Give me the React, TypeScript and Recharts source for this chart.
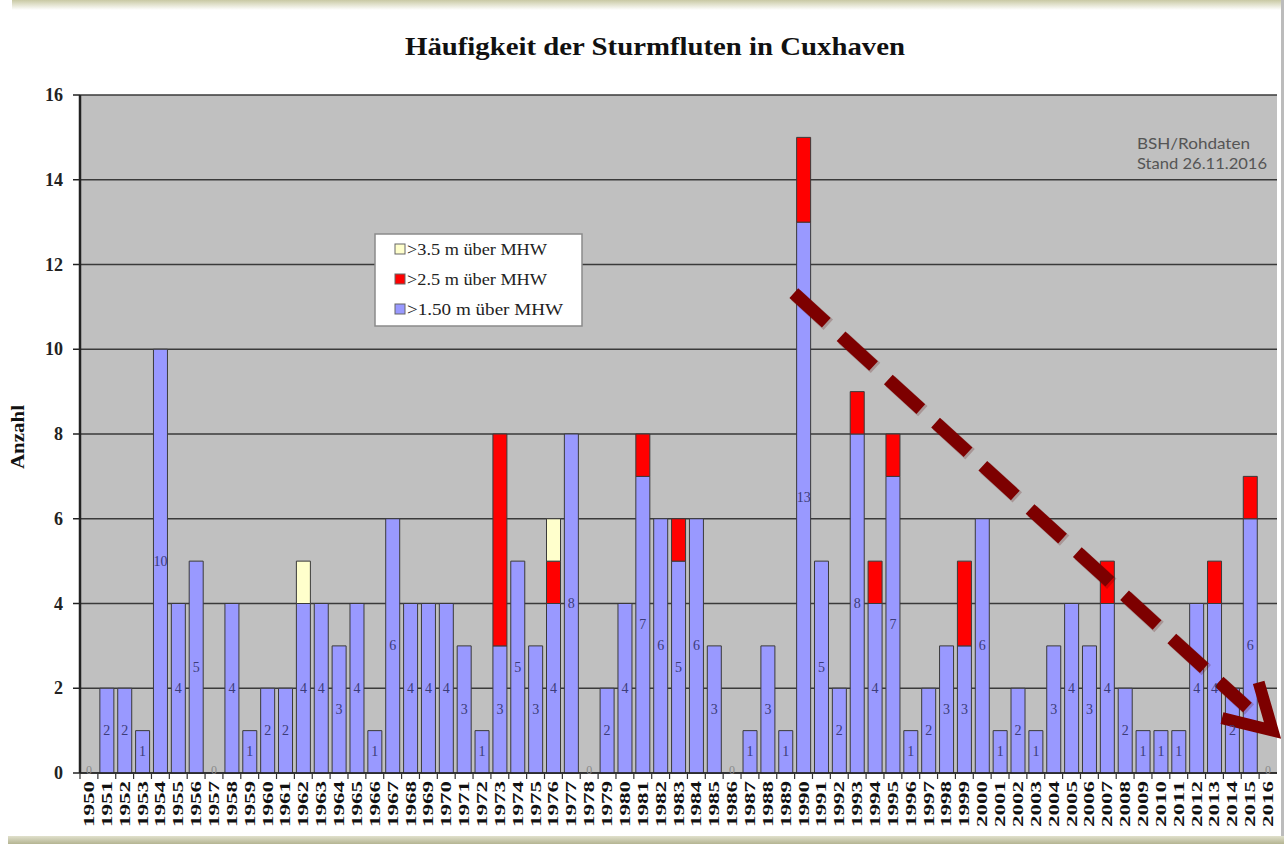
import React from "react";
import {
  BarChart,
  Bar,
  XAxis,
  YAxis,
  CartesianGrid,
  Legend,
  LabelList,
  ReferenceLine,
} from "recharts";

const years = [
  "1950", "1951", "1952", "1953", "1954", "1955", "1956", "1957", "1958", "1959",
  "1960", "1961", "1962", "1963", "1964", "1965", "1966", "1967", "1968", "1969",
  "1970", "1971", "1972", "1973", "1974", "1975", "1976", "1977", "1978", "1979",
  "1980", "1981", "1982", "1983", "1984", "1985", "1986", "1987", "1988", "1989",
  "1990", "1991", "1992", "1993", "1994", "1995", "1996", "1997", "1998", "1999",
  "2000", "2001", "2002", "2003", "2004", "2005", "2006", "2007", "2008", "2009",
  "2010", "2011", "2012", "2013", "2014", "2015", "2016",
];

// >1.50 m über MHW
const over150 = [
  0, 2, 2, 1, 10, 4, 5, 0, 4, 1,
  2, 2, 4, 4, 3, 4, 1, 6, 4, 4,
  4, 3, 1, 3, 5, 3, 4, 8, 0, 2,
  4, 7, 6, 5, 6, 3, 0, 1, 3, 1,
  13, 5, 2, 8, 4, 7, 1, 2, 3, 3,
  6, 1, 2, 1, 3, 4, 3, 4, 2, 1,
  1, 1, 4, 4, 2, 6, 0,
];

// >2.5 m über MHW
const over250 = [
  0, 0, 0, 0, 0, 0, 0, 0, 0, 0,
  0, 0, 0, 0, 0, 0, 0, 0, 0, 0,
  0, 0, 0, 5, 0, 0, 1, 0, 0, 0,
  0, 1, 0, 1, 0, 0, 0, 0, 0, 0,
  2, 0, 0, 1, 1, 1, 0, 0, 0, 2,
  0, 0, 0, 0, 0, 0, 0, 1, 0, 0,
  0, 0, 0, 1, 0, 1, 0,
];

// >3.5 m über MHW
const over350 = [
  0, 0, 0, 0, 0, 0, 0, 0, 0, 0,
  0, 0, 1, 0, 0, 0, 0, 0, 0, 0,
  0, 0, 0, 0, 0, 0, 1, 0, 0, 0,
  0, 0, 0, 0, 0, 0, 0, 0, 0, 0,
  0, 0, 0, 0, 0, 0, 0, 0, 0, 0,
  0, 0, 0, 0, 0, 0, 0, 0, 0, 0,
  0, 0, 0, 0, 0, 0, 0,
];

const yTicks = [0, 2, 4, 6, 8, 10, 12, 14, 16];

const legendItems = [
  { label: ">3.5 m über MHW", color: "#ffffcc", len: 140 },
  { label: ">2.5 m über MHW", color: "#ff0000", len: 140 },
  { label: ">1.50 m über MHW", color: "#9999ff", len: 156 },
];

// trend arrow, in data units
const trendFrom = { x: "1989", y: 11.5 };
const trendTo = { x: "2016", y: 1.1 };

const data = years.map((year, i) => ({
  year,
  blue: over150[i],
  red: over250[i],
  yellow: over350[i],
}));

const SERIF = "'Liberation Serif', 'Times New Roman', serif";
const BAND = 1197 / years.length;

function XTick(props: any) {
  const { x, y, payload, index } = props;
  const empty = over150[index] + over250[index] + over350[index] === 0;
  return (
    <g transform={`translate(${x},${y})`}>
      <line x1={-BAND / 2} x2={-BAND / 2} y1={0} y2={6} stroke="#333" strokeWidth={1.2} />
      {empty && (
        <text
          x={0}
          y={-3}
          textAnchor="middle"
          dominantBaseline="central"
          fontFamily={SERIF}
          fontSize={12}
          fill="#8a8a8a"
        >
          0
        </text>
      )}
      <text
        transform="rotate(-90)"
        x={-8}
        y={0}
        textAnchor="end"
        dominantBaseline="central"
        fontFamily={SERIF}
        fontWeight="bold"
        fontSize={15}
        fill="#111"
        textLength={46}
        lengthAdjust="spacingAndGlyphs"
      >
        {payload.value}
      </text>
    </g>
  );
}

function YTick(props: any) {
  const { x, y, payload } = props;
  return (
    <text
      x={x - 10}
      y={y}
      textAnchor="end"
      dominantBaseline="central"
      fontFamily={SERIF}
      fontWeight="bold"
      fontSize={18}
      fill="#222"
    >
      {payload.value}
    </text>
  );
}

function ValueLabel(props: any) {
  const { x, y, width, height, value } = props;
  if (!value) return null;
  return (
    <text
      x={x + width / 2}
      y={y + height / 2}
      textAnchor="middle"
      dominantBaseline="central"
      fontFamily={SERIF}
      fontSize={14}
      fill="#3c3c78"
    >
      {value}
    </text>
  );
}

function LegendBox() {
  return (
    <svg width={210} height={95}>
      <rect x={1} y={1} width={207} height={92} fill="#fff" stroke="#8a8a8a" strokeWidth={1.5} />
      {legendItems.map((it, i) => (
        <g key={it.label} transform={`translate(0, ${16 + i * 30})`}>
          <rect x={21} y={-5} width={10} height={10} fill={it.color} stroke="#666" strokeWidth={1} />
          <text
            x={33}
            y={0}
            dominantBaseline="central"
            fontFamily={SERIF}
            fontSize={16}
            fill="#222"
            textLength={it.len}
            lengthAdjust="spacingAndGlyphs"
          >
            {it.label}
          </text>
        </g>
      ))}
    </svg>
  );
}

function TrendArrow(props: any) {
  const { x1, y1, x2, y2 } = props;
  if (x1 == null) return null;
  const dx = x2 - x1;
  const dy = y2 - y1;
  const len = Math.sqrt(dx * dx + dy * dy);
  const ux = dx / len;
  const uy = dy / len;
  const sx = x1 + ux * 11;
  const sy = y1 + uy * 11;
  const tipX = x2 + ux * 6;
  const tipY = y2 + uy * 6;
  const arm = (ang: number, l: number) => {
    const c = Math.cos(ang);
    const s = Math.sin(ang);
    const rx = -ux * c + uy * s;
    const ry = -ux * s - uy * c;
    return [tipX + rx * l, tipY + ry * l];
  };
  const a1 = arm(0.55, 50);
  const a2 = arm(-0.5, 52);
  const shaftEndX = x2 - ux * 28;
  const shaftEndY = y2 - uy * 28;
  const color = "#7d0000";
  return (
    <g>
      <line
        x1={sx + 2}
        y1={sy + 2}
        x2={shaftEndX + 2}
        y2={shaftEndY + 2}
        stroke="rgba(80,0,0,0.22)"
        strokeWidth={14}
        strokeDasharray="44 20"
      />
      <line
        x1={sx}
        y1={sy}
        x2={shaftEndX}
        y2={shaftEndY}
        stroke={color}
        strokeWidth={13}
        strokeDasharray="44 20"
      />
      <polyline
        points={`${a1[0]},${a1[1]} ${tipX},${tipY} ${a2[0]},${a2[1]}`}
        fill="none"
        stroke={color}
        strokeWidth={12}
        strokeLinejoin="miter"
      />
    </g>
  );
}

export default function App() {
  return (
    <div
      style={{
        position: "absolute",
        left: 0,
        top: 0,
        width: 1284,
        height: 844,
        background: "#fff",
        overflow: "hidden",
      }}
    >
      <div
        style={{
          position: "absolute",
          left: 12,
          top: 0,
          width: 1272,
          height: 10,
          background: "linear-gradient(#c9c9a4, #ffffff)",
        }}
      />
      <div
        style={{
          position: "absolute",
          left: 8,
          top: 836,
          width: 1276,
          height: 8,
          background: "linear-gradient(#e0e0cc, #b4b492)",
        }}
      />
      <div
        style={{
          position: "absolute",
          left: 1281,
          top: 0,
          width: 3,
          height: 836,
          background: "#bcbcbc",
        }}
      />
      <svg
        width={1284}
        height={844}
        style={{ position: "absolute", left: 0, top: 0, pointerEvents: "none" }}
      >
        <text
          x={405}
          y={55}
          fontFamily={SERIF}
          fontWeight="bold"
          fontSize={25}
          fill="#111"
          textLength={500}
          lengthAdjust="spacingAndGlyphs"
        >
          Häufigkeit der Sturmfluten  in Cuxhaven
        </text>
        <text
          transform="translate(18,437) rotate(-90)"
          textAnchor="middle"
          dominantBaseline="central"
          fontFamily={SERIF}
          fontWeight="bold"
          fontSize={18}
          fill="#111"
          textLength={64}
          lengthAdjust="spacingAndGlyphs"
        >
          Anzahl
        </text>
      </svg>
      <div style={{ position: "absolute", left: 0, top: 0 }}>
        <BarChart
          width={1284}
          height={844}
          data={data}
          margin={{ top: 95, right: 7, left: 0, bottom: 0 }}
          barSize={14}
        >
          <CartesianGrid
            vertical={false}
            stroke="#3a3a3a"
            strokeWidth={1.5}
            fill="#c0c0c0"
            fillOpacity={1}
          />
          <XAxis
            dataKey="year"
            interval={0}
            height={71}
            tickLine={false}
            tickSize={0}
            tickMargin={0}
            axisLine={{ stroke: "#222", strokeWidth: 1.5 }}
            tick={<XTick />}
          />
          <YAxis
            domain={[0, 16]}
            ticks={yTicks}
            width={80}
            tickSize={7}
            tickMargin={0}
            tickLine={{ stroke: "#222", strokeWidth: 1.5 }}
            axisLine={{ stroke: "#222", strokeWidth: 2.5 }}
            tick={<YTick />}
          />
          <YAxis
            yAxisId="right"
            orientation="right"
            domain={[0, 16]}
            width={0}
            tick={false}
            tickLine={false}
            axisLine={{ stroke: "#333", strokeWidth: 2 }}
          />
          <Legend
            layout="vertical"
            align="center"
            verticalAlign="middle"
            wrapperStyle={{ left: 374, top: 233, width: 210, height: 95 }}
            content={<LegendBox />}
          />
          <Bar dataKey="blue" stackId="a" fill="#9999ff" stroke="#3a3a3a" strokeWidth={1} isAnimationActive={false}>
            <LabelList dataKey="blue" content={<ValueLabel />} />
          </Bar>
          <Bar dataKey="red" stackId="a" fill="#ff0000" stroke="#3a3a3a" strokeWidth={1} isAnimationActive={false} />
          <Bar dataKey="yellow" stackId="a" fill="#ffffcc" stroke="#3a3a3a" strokeWidth={1} isAnimationActive={false} />
          <ReferenceLine
            segment={[trendFrom, trendTo]}
            ifOverflow="visible"
            shape={(p: any) => <TrendArrow {...p} />}
          />
        </BarChart>
      </div>
      <svg
        width={1284}
        height={844}
        style={{ position: "absolute", left: 0, top: 0, pointerEvents: "none" }}
      >
        <text x={1137} y={143} dominantBaseline="central" fontFamily="Lato, 'Open Sans', sans-serif" fontSize={15} fill="#555" textLength={113} lengthAdjust="spacingAndGlyphs">
          BSH/Rohdaten
        </text>
        <text x={1137} y={163} dominantBaseline="central" fontFamily="Lato, 'Open Sans', sans-serif" fontSize={15} fill="#555" textLength={130} lengthAdjust="spacingAndGlyphs">
          Stand 26.11.2016
        </text>
      </svg>
    </div>
  );
}
